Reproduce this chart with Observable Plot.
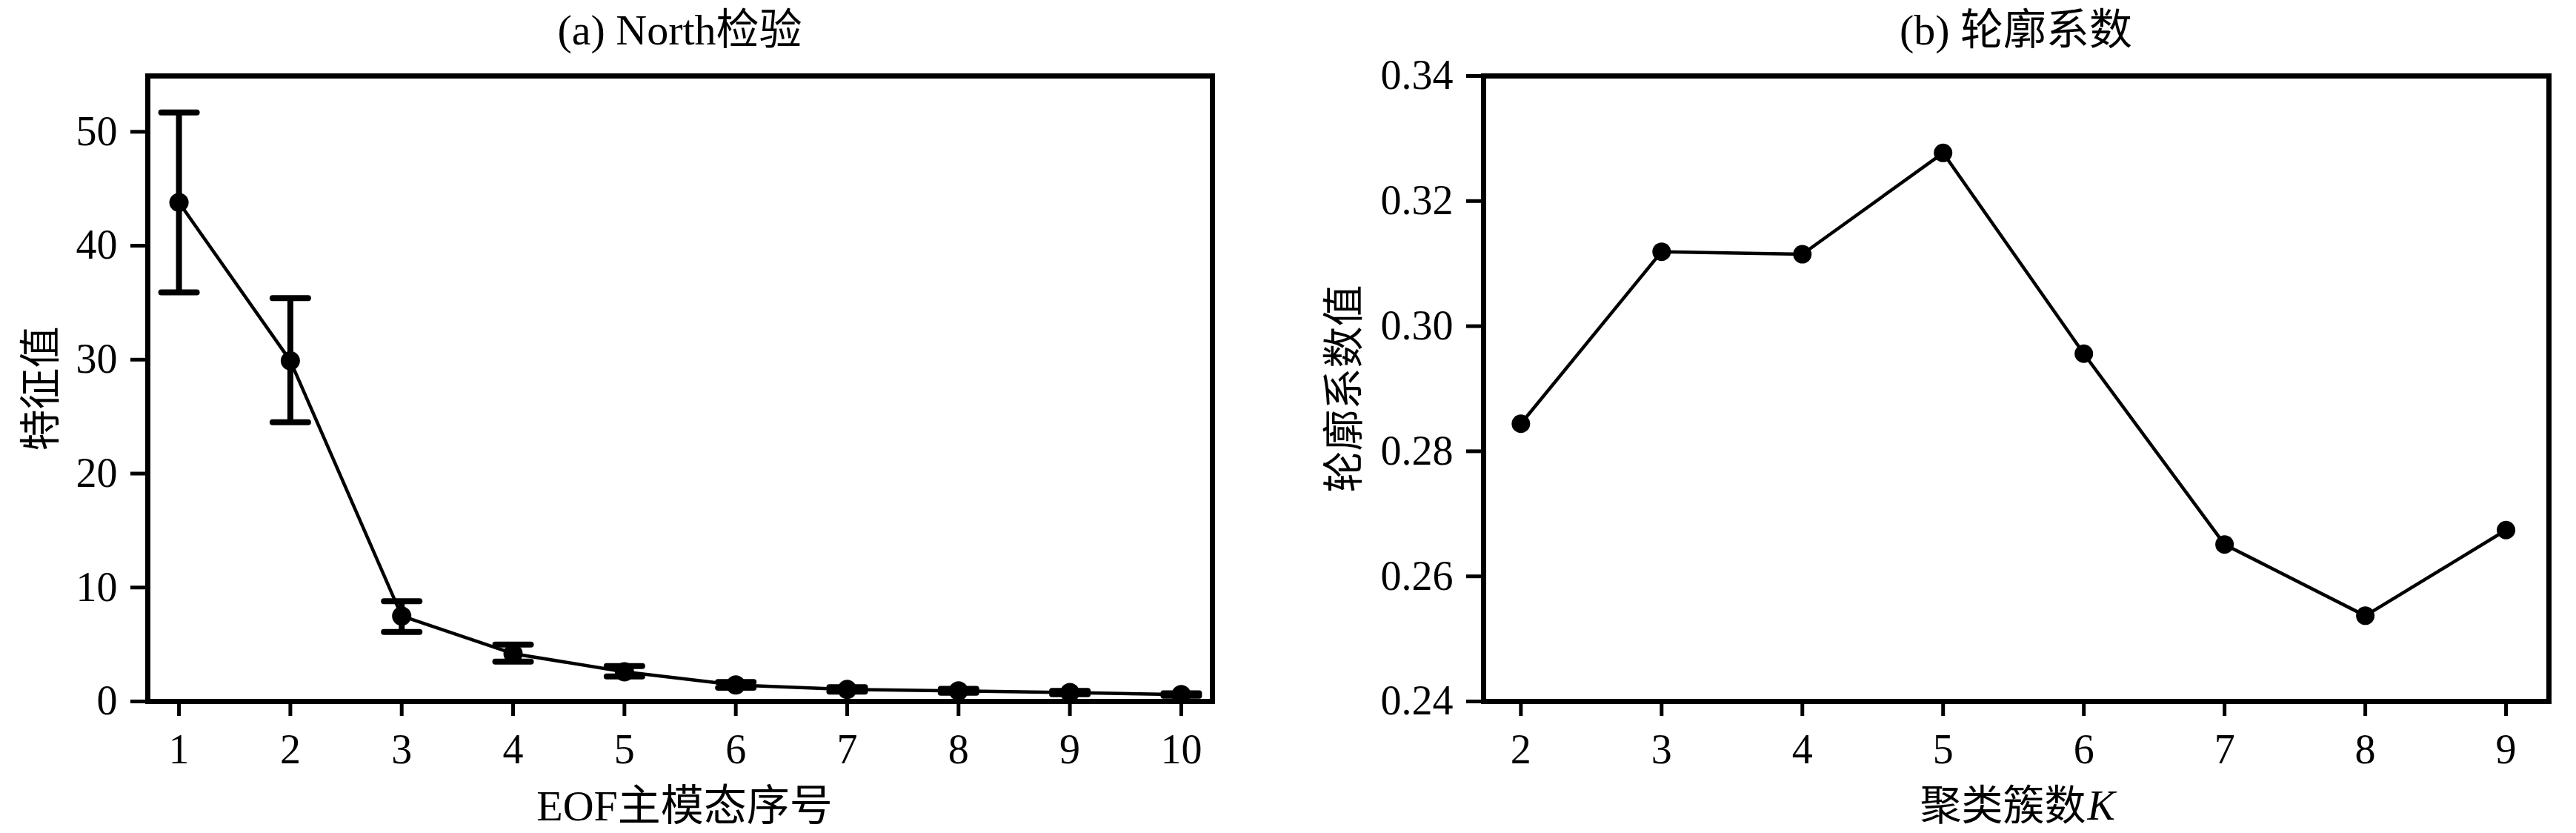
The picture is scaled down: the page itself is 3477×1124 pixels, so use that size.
<!DOCTYPE html>
<html>
<head>
<meta charset="utf-8">
<script src="https://cdn.jsdelivr.net/npm/d3@7"></script>
<script src="https://cdn.jsdelivr.net/npm/@observablehq/plot@0.6"></script>
<style>
  html, body { margin: 0; padding: 0; background: white; }
  body { width: 3477px; height: 1124px; position: relative; overflow: hidden;
         font-family: "Liberation Serif", "Noto Sans CJK SC", serif; color: black; }
  .panel { position: absolute; top: 0; }
  .title { box-sizing: border-box; height: 66px; padding-top: 16px; line-height: 50px; font-size: 58px; text-align: center; white-space: nowrap; overflow: visible; }
  svg { display: block; }
</style>
</head>
<body>
<div id="pa" class="panel" style="left:0px;width:1740px;"></div>
<div id="pb" class="panel" style="left:1740px;width:1737px;"></div>
<script>
// ---------- Data: (a) North test ----------
const eofModes = [1, 2, 3, 4, 5, 6, 7, 8, 9, 10];
const eigenValues = [43.8, 29.9, 7.5, 4.2, 2.6, 1.45, 1.05, 0.93, 0.78, 0.6];
const eigenLower = [35.9, 24.5, 6.1, 3.5, 2.2, 1.2, 0.87, 0.77, 0.64, 0.5];
const eigenUpper = [51.7, 35.4, 8.8, 5.0, 3.1, 1.7, 1.25, 1.1, 0.92, 0.72];
const yTicksA = [0, 10, 20, 30, 40, 50];

// ---------- Data: (b) silhouette ----------
const clusterK = [2, 3, 4, 5, 6, 7, 8, 9];
const silhouette = [0.2844, 0.3119, 0.3115, 0.3277, 0.2956, 0.2651, 0.2537, 0.2674];
const yTicksB = [0.24, 0.26, 0.28, 0.30, 0.32, 0.34];

// ---------- Texts ----------
const titleA = "(a) North检验";
const titleB = "(b) 轮廓系数";
const xLabelA = "EOF主模态序号";
const yLabelA = "特征值";
const xLabelB = "聚类簇数";
const xLabelBItalic = "K";
const yLabelB = "轮廓系数值";

const FONT = "Liberation Serif, Noto Sans CJK SC, serif";
const tableA = eofModes.map((k, i) => ({k, v: eigenValues[i], lo: eigenLower[i], hi: eigenUpper[i]}));
const tableB = clusterK.map((k, i) => ({k, v: silhouette[i]}));

// horizontal cap symbol for the error bars
const capSymbol = {
  draw(ctx, size) {
    const w = Math.sqrt(size / Math.PI);
    ctx.moveTo(-w, 0);
    ctx.lineTo(w, 0);
  }
};

function addPanel(id, title, plot, left, right) {
  const host = document.getElementById(id);
  const t = document.createElement("div");
  t.className = "title";
  t.style.paddingLeft = left + "px";
  t.style.paddingRight = right + "px";
  t.textContent = title;
  host.appendChild(t);
  host.appendChild(plot);
}

const MT = 36, MB = 178, H = 1124 - 66;

// ---------- Panel (a) ----------
const mLA = 199, mRA = 104;
const plotA = Plot.plot({
  width: 1740,
  height: H,
  marginLeft: mLA,
  marginRight: mRA,
  marginTop: MT,
  marginBottom: MB,
  style: {fontFamily: FONT, fontSize: "56px", background: "white", color: "black"},
  x: {domain: [0.72, 10.28]},
  y: {domain: [0, 54.9]},
  marks: [
    Plot.axisX(eofModes, {tickSize: 20, tickPadding: 24, strokeWidth: 5, fontSize: 56, label: null, fontFamily: FONT, tickFormat: d3.format("d")}),
    Plot.axisY(yTicksA, {tickSize: 23, tickPadding: 18, strokeWidth: 5, fontSize: 56, label: null, fontFamily: FONT, tickFormat: d3.format("d")}),
    Plot.ruleX(tableA, {x: "k", y1: "lo", y2: "hi", stroke: "black", strokeWidth: 8}),
    Plot.dot(tableA, {x: "k", y: "hi", symbol: capSymbol, r: 24, fill: "none", stroke: "black", strokeWidth: 8, strokeLinecap: "round"}),
    Plot.dot(tableA, {x: "k", y: "lo", symbol: capSymbol, r: 24, fill: "none", stroke: "black", strokeWidth: 8, strokeLinecap: "round"}),
    Plot.line(tableA, {x: "k", y: "v", stroke: "black", strokeWidth: 4.5}),
    Plot.dot(tableA, {x: "k", y: "v", r: 13, fill: "black", stroke: "none"}),
    Plot.frame({stroke: "black", strokeWidth: 7}),
    Plot.text([xLabelA], {frameAnchor: "bottom", dy: 142, dx: 6, textAnchor: "middle", lineAnchor: "middle", fontSize: 58, fontFamily: FONT, fill: "black"}),
    Plot.text([yLabelA], {frameAnchor: "left", dx: -143, rotate: -90, textAnchor: "middle", lineAnchor: "middle", fontSize: 56, fontFamily: FONT, fill: "black"})
  ]
});
addPanel("pa", titleA, plotA, mLA, mRA);

// ---------- Panel (b) ----------
const mLB = 262, mRB = 37;
const plotB = Plot.plot({
  width: 1737,
  height: H,
  marginLeft: mLB,
  marginRight: mRB,
  marginTop: MT,
  marginBottom: MB,
  style: {fontFamily: FONT, fontSize: "56px", background: "white", color: "black"},
  x: {domain: [1.735, 9.305]},
  y: {domain: [0.24, 0.34]},
  marks: [
    Plot.axisX(clusterK, {tickSize: 20, tickPadding: 24, strokeWidth: 5, fontSize: 56, label: null, fontFamily: FONT, tickFormat: d3.format("d")}),
    Plot.axisY(yTicksB, {tickSize: 23, tickPadding: 18, strokeWidth: 5, fontSize: 56, label: null, fontFamily: FONT, tickFormat: d3.format(".2f")}),
    Plot.line(tableB, {x: "k", y: "v", stroke: "black", strokeWidth: 4.5}),
    Plot.dot(tableB, {x: "k", y: "v", r: 12.5, fill: "black", stroke: "none"}),
    Plot.frame({stroke: "black", strokeWidth: 7}),
    Plot.text([xLabelB], {frameAnchor: "bottom", dy: 142, dx: 94, textAnchor: "end", lineAnchor: "middle", fontSize: 56, fontFamily: FONT, fill: "black"}),
    Plot.text([xLabelBItalic], {frameAnchor: "bottom", dy: 142, dx: 96, textAnchor: "start", lineAnchor: "middle", fontSize: 56, fontFamily: FONT, fontStyle: "italic", fill: "black"}),
    Plot.text([yLabelB], {frameAnchor: "left", dx: -187, rotate: -90, textAnchor: "middle", lineAnchor: "middle", fontSize: 56, fontFamily: FONT, fill: "black"})
  ]
});
addPanel("pb", titleB, plotB, mLB, mRB);
</script>
</body>
</html>
